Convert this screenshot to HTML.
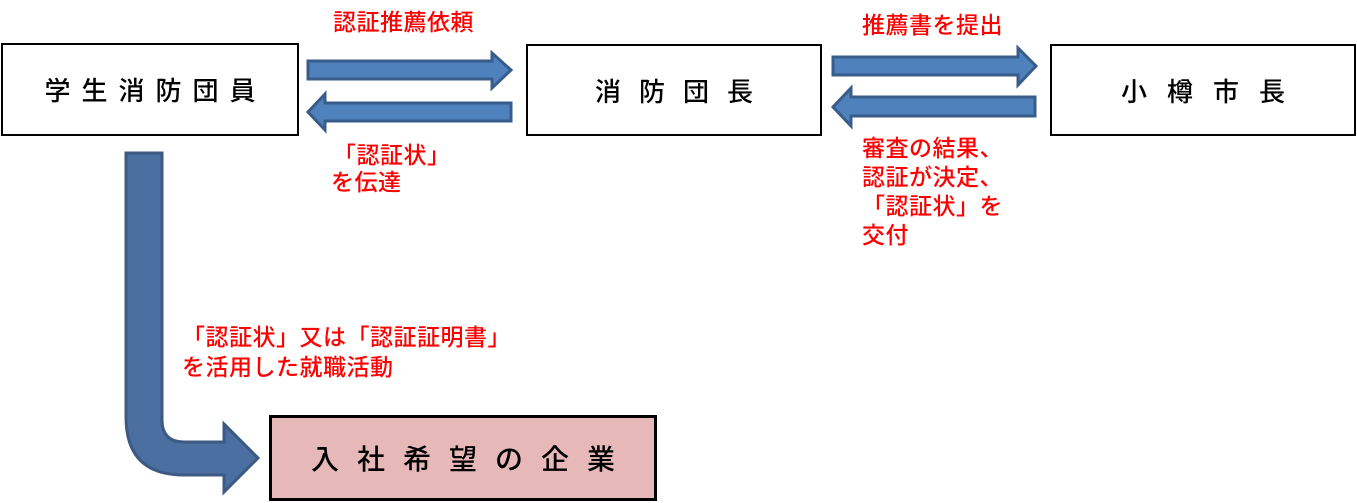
<!DOCTYPE html>
<html><head><meta charset="utf-8"><style>
body{margin:0;width:1357px;height:503px;background:#fff;position:relative;overflow:hidden;font-family:"Liberation Sans","Noto Sans CJK JP",sans-serif}
.box{position:absolute;box-sizing:border-box;border:2.5px solid #000;display:flex;align-items:center;justify-content:center;font-size:26px;color:#000;font-weight:500}
.r{position:absolute;color:#f00;font-size:23px;line-height:28px;letter-spacing:0.5px;white-space:nowrap;font-weight:500}
svg{position:absolute;left:0;top:0}
</style></head><body>
<svg width="1357" height="503">
<g fill="#4f81bd" stroke="#385d8a" stroke-width="3">
<polygon points="308,61 492,61 492,53 511,70 492,88 492,79 308,79"/>
<polygon points="511,103 325,103 325,94 308,112 325,130 325,121 511,121"/>
<polygon points="833,57 1018,57 1018,48 1036,66 1018,85 1018,75 833,75"/>
<polygon points="1035,97 851,97 851,88 833,107 851,126 851,116 1035,116"/>
</g>
<path d="M126,153 L162,153 L162,420 Q162,442 184,442 L224,442 L224,424 L258,458 L224,492 L224,475 L184,475 Q126,475 126,417 Z" fill="#4a6fa0" stroke="#3c5a82" stroke-width="3"/>
</svg>
<div class="box" style="left:1px;top:43px;width:298px;height:93px;letter-spacing:11px;padding-left:11px">学生消防団員</div>
<div class="box" style="left:526px;top:44px;width:296px;height:92px;letter-spacing:18px;padding-left:18px">消防団長</div>
<div class="box" style="left:1050px;top:44px;width:306px;height:92px;letter-spacing:20px;padding-left:20px">小樽市長</div>
<div class="box" style="left:269px;top:415px;width:388px;height:86px;background:#e6b9b8;border-width:3px;font-size:28px;letter-spacing:18px;padding-left:18px">入社希望の企業</div>
<div class="r" style="left:333px;top:8px">認証推薦依頼</div>
<div class="r" style="left:333px;top:141px">「認証状」</div>
<div class="r" style="left:331px;top:168px">を伝達</div>
<div class="r" style="left:862px;top:11px">推薦書を提出</div>
<div class="r" style="left:862px;top:134px;line-height:29px">審査の結果、<br>認証が決定、<br>「認証状」を<br>交付</div>
<div class="r" style="left:182px;top:323px;letter-spacing:0.5px">「認証状」又は「認証証明書」</div>
<div class="r" style="left:182px;top:353px;letter-spacing:0.5px">を活用した就職活動</div>
</body></html>
